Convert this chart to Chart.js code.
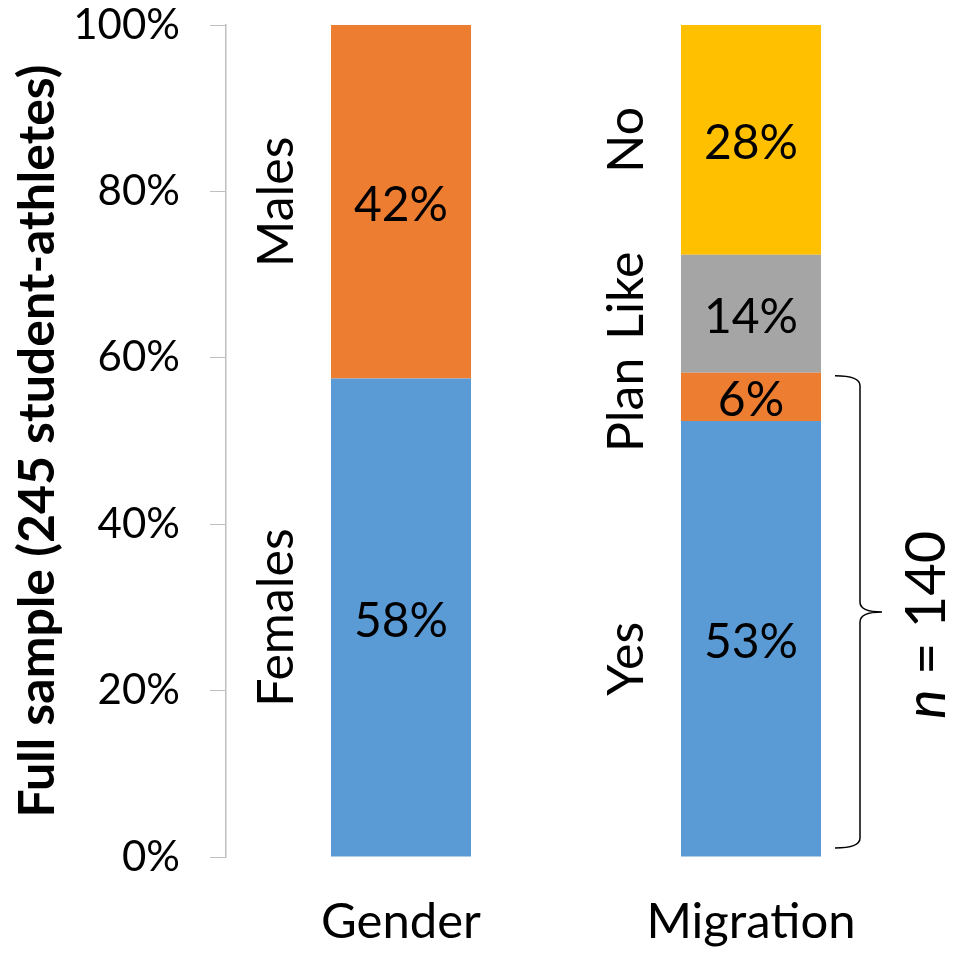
<!DOCTYPE html>
<html>
<head>
<meta charset="utf-8">
<script src="https://cdn.jsdelivr.net/npm/chart.js"></script>
<style>
  html, body { margin: 0; padding: 0; background: #fff; }
  #wrap { width: 953px; height: 953px; }
</style>
</head>
<body>
<div id="wrap"><canvas id="chart" width="953" height="953"></canvas></div>
<script>
// categories and values (percent of 245 student-athletes)
const categories = ['Gender', 'Migration'];
const seriesNames = [['Females', 'Yes'], ['Males', 'Plan'], [null, 'Like'], [null, 'No']];
const layer1 = [57.5, 52.4];   // Females / Yes
const layer2 = [42.5, 5.8];    // Males / Plan
const layer3 = [null, 14.2];   // Like
const layer4 = [null, 27.6];   // No
const valueLabels = [['58%', '53%'], ['42%', '6%'], [null, '14%'], [null, '28%']];
const yTicks = [0, 20, 40, 60, 80, 100];
const yTitle = 'Full sample (245 student-athletes)';
const bracketNote = '140';

const colors = ['#5B9BD5', '#ED7D31', '#A5A5A5', '#FFC000'];
const FONT = 'Lato, "Open Sans", sans-serif';
// nudges for the rotated side labels so short segments don't collide
const sideNudge = [[0, 20], [0, 8], [null, -18], [null, 0]];

const annotate = {
  id: 'annotate',
  afterDatasetsDraw(chart) {
    const ctx = chart.ctx;
    const y = chart.scales.y;
    ctx.save();
    chart.data.datasets.forEach((ds, di) => {
      const meta = chart.getDatasetMeta(di);
      meta.data.forEach((bar, i) => {
        if (ds.data[i] == null) return;
        const cy = (bar.y + bar.base) / 2;
        ctx.fillStyle = '#000';
        ctx.font = '48px ' + FONT;
        ctx.textAlign = 'center';
        ctx.textBaseline = 'middle';
        ctx.fillText(valueLabels[di][i], bar.x, cy + 4);
        // side label, rotated
        ctx.save();
        ctx.translate(bar.x - bar.width / 2 - 54, cy + sideNudge[di][i]);
        ctx.rotate(-Math.PI / 2);
        ctx.font = '50px ' + FONT;
        ctx.fillText(seriesNames[di][i], 0, 0);
        ctx.restore();
      });
    });

    // brace over Yes + Plan
    const mig = chart.getDatasetMeta(0).data[1];
    const xr = mig.x + mig.width / 2;
    const top = y.getPixelForValue(layer1[1] + layer2[1]) + 3;
    const bot = y.getPixelForValue(0) - 9;
    const mid = (top + bot) / 2;
    const x0 = xr + 14, x1 = xr + 39, x2 = xr + 61;
    ctx.strokeStyle = '#000';
    ctx.lineWidth = 1.5;
    ctx.beginPath();
    ctx.moveTo(x0, top);
    ctx.quadraticCurveTo(x1, top, x1, top + 10);
    ctx.lineTo(x1, mid - 10);
    ctx.quadraticCurveTo(x1, mid, x2, mid);
    ctx.quadraticCurveTo(x1, mid, x1, mid + 10);
    ctx.lineTo(x1, bot - 10);
    ctx.quadraticCurveTo(x1, bot, x0, bot);
    ctx.stroke();

    // n = 140
    ctx.save();
    ctx.translate(xr + 106, mid + 13);
    ctx.rotate(-Math.PI / 2);
    ctx.textBaseline = 'middle';
    ctx.textAlign = 'left';
    ctx.font = 'italic 56px ' + FONT;
    const w1 = ctx.measureText('n').width;
    ctx.font = '56px ' + FONT;
    const rest = ' = ' + bracketNote;
    const w2 = ctx.measureText(rest).width;
    const sx = -(w1 + w2) / 2;
    ctx.font = 'italic 56px ' + FONT;
    ctx.fillText('n', sx, 0);
    ctx.font = '56px ' + FONT;
    ctx.fillText(rest, sx + w1, 0);
    ctx.restore();

    ctx.restore();
  }
};

const layers = [layer1, layer2, layer3, layer4];
new Chart(document.getElementById('chart').getContext('2d'), {
  type: 'bar',
  data: {
    labels: categories,
    datasets: layers.map((d, i) => ({
      label: 'layer' + (i + 1),
      data: d,
      backgroundColor: colors[i],
      borderWidth: 0,
      barPercentage: 0.4,
      categoryPercentage: 1
    }))
  },
  options: {
    responsive: false,
    animation: false,
    devicePixelRatio: 1,
    layout: { padding: { top: 25, right: 27, bottom: 0, left: 0 } },
    plugins: { legend: { display: false }, tooltip: { enabled: false } },
    scales: {
      x: {
        stacked: true,
        grid: { display: false, drawTicks: false },
        border: { display: false },
        ticks: { color: '#000', font: { family: FONT, size: 49 }, padding: 36 },
        afterFit(s) { s.height = 96; s.paddingLeft = 0; s.paddingRight = 0; }
      },
      y: {
        stacked: true,
        min: 0,
        max: 100,
        afterBuildTicks(s) { s.ticks = yTicks.map(v => ({ value: v })); },
        ticks: { color: '#000', font: { family: FONT, size: 42 }, padding: 30, callback: v => v + '%' },
        grid: { drawOnChartArea: false, tickLength: 16, color: '#BFBFBF' },
        border: { color: '#BFBFBF', width: 1.5 },
        title: {
          display: true,
          text: yTitle,
          color: '#000',
          font: { family: FONT, size: 50, weight: 'bold' },
          padding: { top: 8, bottom: 0 }
        },
        afterFit(s) { s.width = 226; s.paddingTop = 0; s.paddingBottom = 0; }
      }
    }
  },
  plugins: [annotate]
});
</script>
</body>
</html>
